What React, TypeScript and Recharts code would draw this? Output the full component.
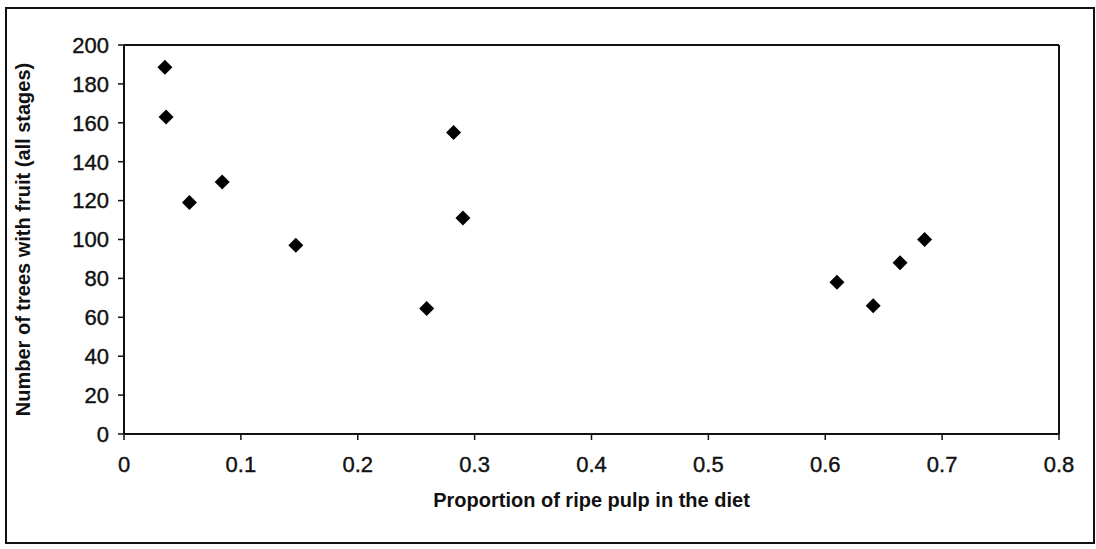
import { ScatterChart, Scatter, XAxis, YAxis, ReferenceLine } from 'recharts';

// proportion of ripe pulp in the diet
const pulpShare = [0.035, 0.036, 0.056, 0.084, 0.147, 0.259, 0.282, 0.29, 0.61, 0.641, 0.664, 0.685];
// number of trees with fruit (all stages)
const treeCount = [188.5, 163, 119, 129.5, 97, 64.5, 155, 111, 78, 66, 88, 100];

const xTicks = [0, 0.1, 0.2, 0.3, 0.4, 0.5, 0.6, 0.7, 0.8];
const yTicks = [0, 20, 40, 60, 80, 100, 120, 140, 160, 180, 200];

const points = pulpShare.map((x, i) => ({ x, y: treeCount[i] }));

const FONT = '"Liberation Sans", Arial, sans-serif';
const INK = '#111';

function Diamond({ cx, cy }: { cx?: number; cy?: number }) {
  if (cx == null || cy == null) return null;
  const r = 7.5;
  return (
    <polygon
      points={`${cx},${cy - r} ${cx + r},${cy} ${cx},${cy + r} ${cx - r},${cy}`}
      fill="#000"
    />
  );
}

function YTitle(props: any) {
  const { x, y, height } = props.viewBox;
  const cx = x + 9;
  const cy = y + height / 2;
  return (
    <text
      x={cx}
      y={cy}
      transform={`rotate(-90, ${cx}, ${cy})`}
      textAnchor="middle"
      dominantBaseline="central"
      fontFamily={FONT}
      fontWeight="bold"
      fontSize={20}
      fill={INK}
    >
      Number of trees with fruit (all stages)
    </text>
  );
}

function XTitle(props: any) {
  const { x, y, width } = props.viewBox;
  return (
    <text
      x={x + width / 2}
      y={y + 66}
      textAnchor="middle"
      dominantBaseline="central"
      fontFamily={FONT}
      fontWeight="bold"
      fontSize={20}
      fill={INK}
    >
      Proportion of ripe pulp in the diet
    </text>
  );
}

const tickStyle = { fill: INK, fontSize: 22, fontFamily: FONT, stroke: INK, strokeWidth: 0.4 };

export default function App() {
  return (
    <div style={{ position: 'absolute', left: 0, top: 0, width: 1096, height: 549, background: '#fff' }}>
      <div
        style={{
          position: 'absolute',
          left: 5,
          top: 7,
          width: 1086,
          height: 533,
          border: `2px solid ${INK}`,
        }}
      />
      <div style={{ position: 'absolute', left: 0, top: 0 }}>
        <ScatterChart
          width={1096}
          height={549}
          margin={{ top: 45, right: 37, bottom: 55, left: 14 }}
        >
          <XAxis
            type="number"
            dataKey="x"
            domain={[0, 0.8]}
            ticks={xTicks}
            interval={0}
            height={60}
            tickSize={6}
            tickMargin={16}
            tick={tickStyle}
            axisLine={{ stroke: INK, strokeWidth: 2 }}
            tickLine={{ stroke: INK, strokeWidth: 1.5 }}
            label={{ content: XTitle }}
          />
          <YAxis
            type="number"
            dataKey="y"
            domain={[0, 200]}
            ticks={yTicks}
            interval={0}
            width={110}
            tickSize={6}
            tickMargin={9}
            tick={tickStyle}
            axisLine={{ stroke: INK, strokeWidth: 2 }}
            tickLine={{ stroke: INK, strokeWidth: 1.5 }}
            label={{ content: YTitle }}
          />
          <ReferenceLine y={200} stroke={INK} strokeWidth={2} />
          <ReferenceLine x={0.8} stroke={INK} strokeWidth={2} />
          <Scatter data={points} shape={<Diamond />} isAnimationActive={false} />
        </ScatterChart>
      </div>
    </div>
  );
}
